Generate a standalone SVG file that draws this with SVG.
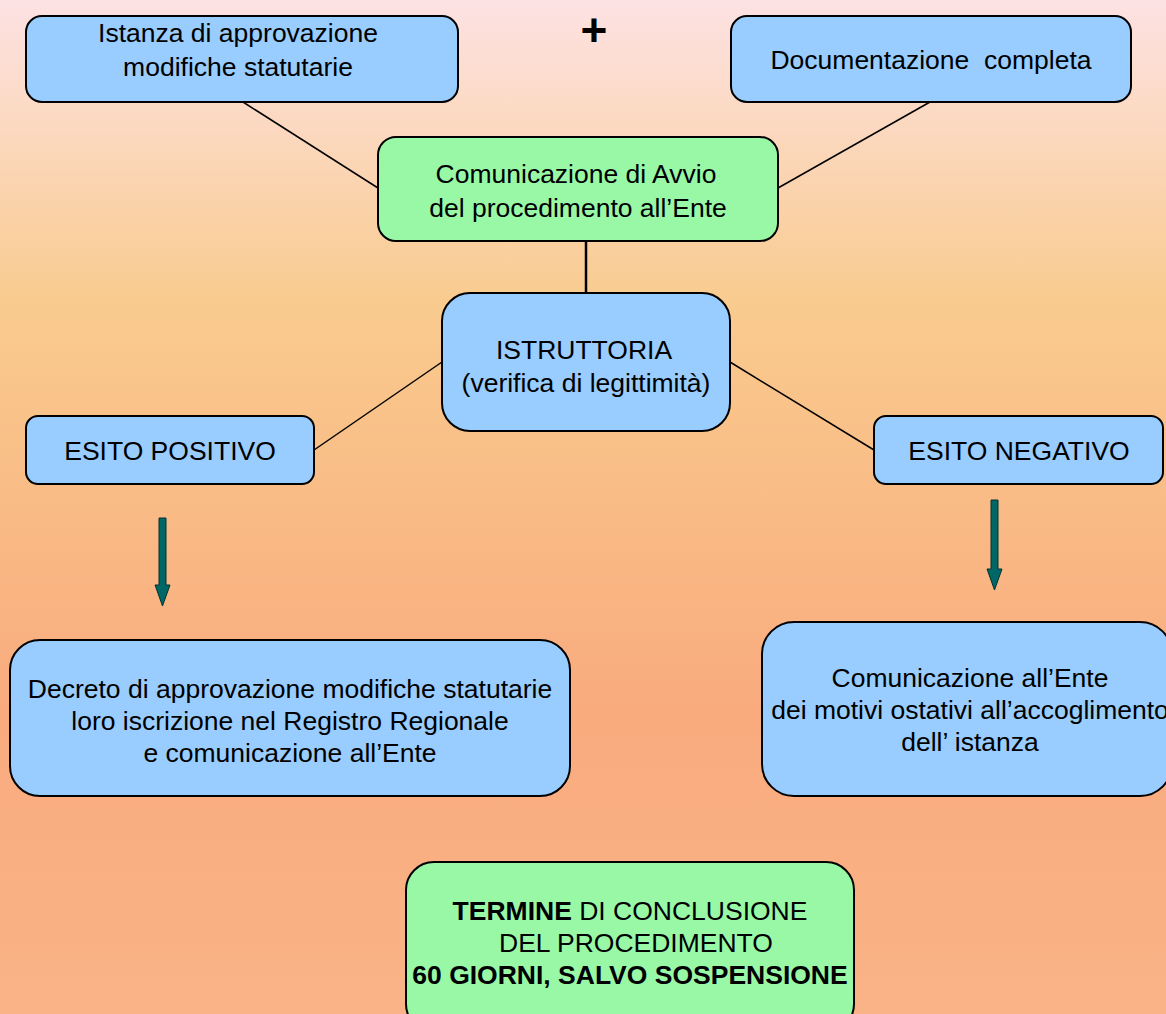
<svg xmlns="http://www.w3.org/2000/svg" width="1166" height="1014" viewBox="0 0 1166 1014">
<defs>
<linearGradient id="bg" x1="0" y1="0" x2="0" y2="1">
<stop offset="0" stop-color="#fde2e3"/>
<stop offset="0.3" stop-color="#f9cb8e"/>
<stop offset="0.7" stop-color="#f9ab7e"/>
<stop offset="1" stop-color="#f9b386"/>
</linearGradient>
<style>
.b{fill:#99ccff;stroke:#000;stroke-width:2}
.g{fill:#99f8a6;stroke:#000;stroke-width:2}
.t{font-family:"Liberation Sans",Arial,sans-serif;font-size:26.5px;fill:#000;text-anchor:middle}
.c{stroke:#000;stroke-width:1.5;fill:none}
.ar{fill:#006666;stroke:#003333;stroke-width:1}
</style>
</defs>
<rect x="0" y="0" width="1166" height="1014" fill="url(#bg)"/>
<g id="connectors">
<line class="c" x1="243" y1="102" x2="378" y2="188"/>
<line class="c" x1="930" y1="102" x2="778" y2="188"/>
<line class="c" x1="586" y1="241" x2="586" y2="293" style="stroke-width:2.5"/>
<line class="c" x1="442" y1="362" x2="314" y2="450"/>
<line class="c" x1="730" y1="362" x2="874" y2="450"/>
<path class="ar" d="M159,518 H166 V585 H170 L162.5,606 L155,585 H159 Z"/>
<path class="ar" d="M991,500 H998 V569 H1002 L994.5,590 L987,569 H991 Z"/>
</g>
<g id="plus"><text x="594" y="46" style="font-family:'Liberation Sans',Arial,sans-serif;font-size:46px;font-weight:bold;text-anchor:middle">+</text></g>
<g id="istanza">
<rect class="b" x="26" y="16" width="432" height="86" rx="16"/>
<text class="t" x="238" y="42">Istanza  di approvazione</text>
<text class="t" x="238" y="76">modifiche statutarie</text>
</g>
<g id="documentazione">
<rect class="b" x="731" y="16" width="400" height="86" rx="16"/>
<text class="t" x="931" y="69" xml:space="preserve">Documentazione  completa</text>
</g>
<g id="avvio">
<rect class="g" x="378" y="137" width="400" height="104" rx="18"/>
<text class="t" x="576" y="183">Comunicazione di Avvio</text>
<text class="t" x="578" y="217">del procedimento all’Ente</text>
</g>
<g id="istruttoria">
<rect class="b" x="442" y="293" width="288" height="138" rx="28"/>
<text class="t" x="584" y="359">ISTRUTTORIA</text>
<text class="t" x="586" y="392">(verifica di legittimità)</text>
</g>
<g id="positivo">
<rect class="b" x="26" y="416" width="288" height="68" rx="12"/>
<text class="t" x="170" y="460">ESITO POSITIVO</text>
</g>
<g id="negativo">
<rect class="b" x="874" y="416" width="289" height="68" rx="12"/>
<text class="t" x="1019" y="460">ESITO NEGATIVO</text>
</g>
<g id="decreto">
<rect class="b" x="10" y="640" width="560" height="156" rx="30"/>
<text class="t" x="290" y="698">Decreto di approvazione modifiche statutarie</text>
<text class="t" x="290" y="730">loro iscrizione nel Registro Regionale</text>
<text class="t" x="290" y="762">e comunicazione all’Ente</text>
</g>
<g id="comunicazione">
<rect class="b" x="762" y="622" width="410" height="174" rx="32"/>
<text class="t" x="970" y="687">Comunicazione all’Ente</text>
<text class="t" x="970" y="719">dei motivi ostativi all’accoglimento</text>
<text class="t" x="970" y="751">dell’ istanza</text>
</g>
<g id="termine">
<rect class="g" x="406" y="862" width="448" height="170" rx="28"/>
<text class="t" x="630" y="920"><tspan font-weight="bold">TERMINE</tspan> DI CONCLUSIONE</text>
<text class="t" x="636" y="952">DEL PROCEDIMENTO</text>
<text class="t" x="630" y="984" font-weight="bold">60 GIORNI, SALVO SOSPENSIONE</text>
</g>
</svg>
